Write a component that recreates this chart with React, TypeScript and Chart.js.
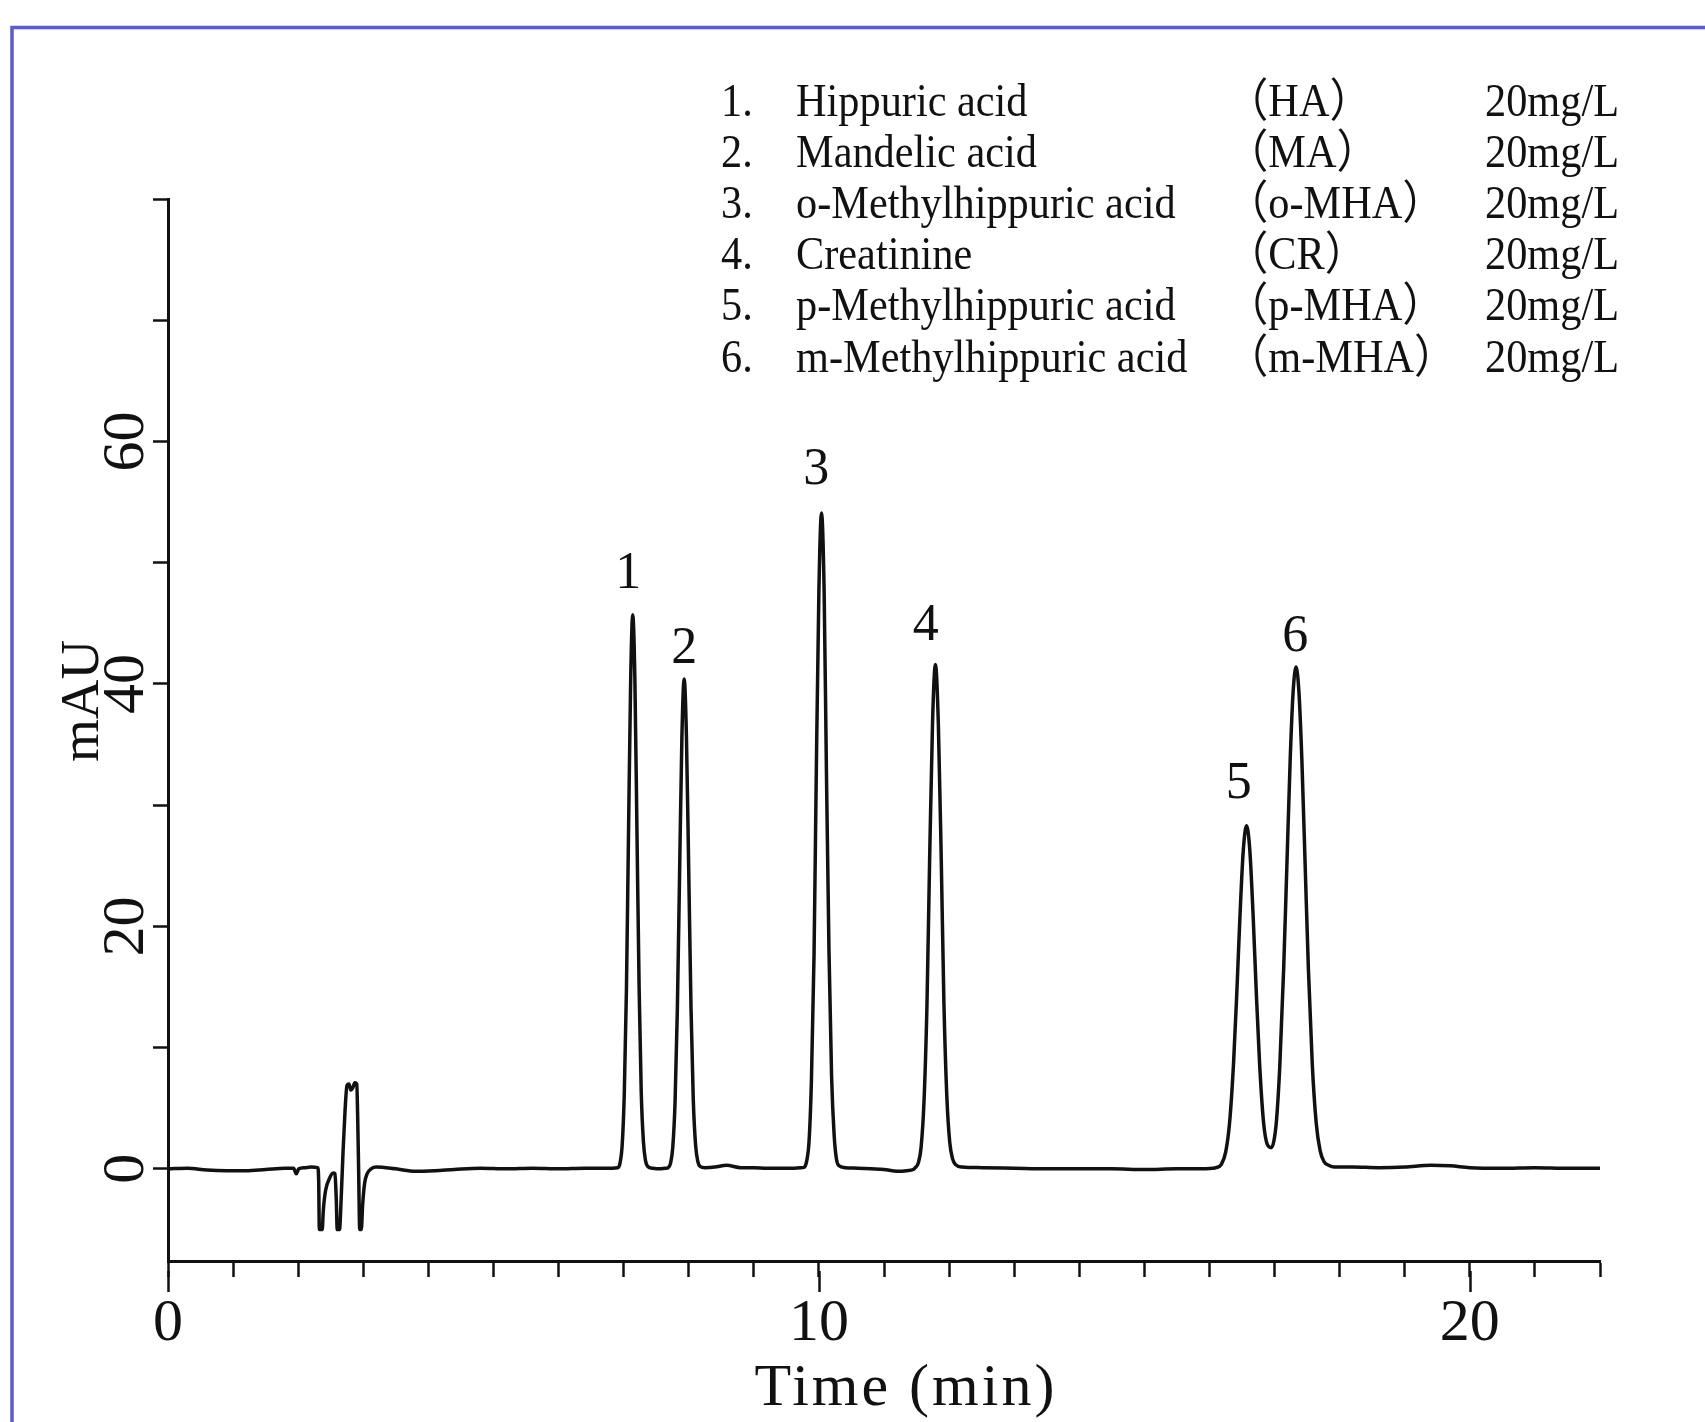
import React, { useEffect, useRef } from "react";
import { Chart, registerables } from "chart.js";

Chart.register(...registerables);

const W = 1705;
const H = 1422;
const INK = "#111111";
const SERIF = '"Liberation Serif", "Times New Roman", serif';

// ---- axes ----
const X_RANGE = [0, 22];
const Y_RANGE = [-7.6, 80];
const X_TICKS = [0, 1, 2, 3, 4, 5, 6, 7, 8, 9, 10, 11, 12, 13, 14, 15, 16, 17, 18, 19, 20, 21, 22];
const X_LABELED = [0, 10, 20];
const Y_TICKS = [0, 10, 20, 30, 40, 50, 60, 70, 80];
const Y_LABELED = [0, 20, 40, 60];

// ---- signal segments: [time (min), mAU] ----
const baselineStart = [
  [0, 0.0], [0.3, 0.05], [0.6, -0.1], [0.9, -0.15], [1.2, -0.15], [1.5, -0.05], [1.8, 0.05],
  [1.93, 0.05], [1.97, -0.4], [2.01, 0.0], [2.1, 0.1], [2.2, 0.15], [2.3, 0.1],
];
const injection = [
  [2.315, -1.0], [2.325, -5.0], [2.37, -5.0], [2.385, -3.5], [2.42, -1.8], [2.48, -0.8],
  [2.54, -0.35], [2.565, -0.4], [2.585, -2.5], [2.6, -5.0], [2.635, -5.0], [2.66, -2.5],
  [2.69, 1.5], [2.72, 4.8], [2.75, 6.9], [2.78, 7.0], [2.81, 6.5], [2.84, 6.7], [2.87, 7.1],
  [2.9, 7.0], [2.915, 4.0], [2.93, -0.5], [2.945, -5.0], [2.97, -5.0], [2.99, -3.0],
  [3.02, -1.2], [3.06, -0.4], [3.12, 0.0], [3.2, 0.15],
];
const baselineMid1 = [
  [3.5, 0.0], [3.8, -0.2], [4.1, -0.15], [4.4, -0.05], [4.8, 0.05], [5.2, 0.0], [5.6, 0.05],
  [6.0, 0.0], [6.4, 0.05], [6.7, 0.05], [6.91, 0.1],
];
const peakHA = [
  [6.945, 0.5], [6.978, 2.0], [7.01, 6.2], [7.043, 14.8], [7.075, 27.7], [7.108, 40.3],
  [7.14, 45.7], [7.173, 40.3], [7.205, 27.7], [7.238, 14.9], [7.27, 6.4], [7.303, 2.3],
  [7.335, 0.7], [7.37, 0.2], [7.45, 0.05], [7.55, 0.0], [7.64, 0.05],
];
const peakMA = [
  [7.685, 0.1], [7.72, 0.45], [7.755, 1.8], [7.79, 5.5], [7.825, 13.1], [7.86, 24.5],
  [7.895, 35.6], [7.93, 40.4], [7.965, 35.6], [8.0, 24.6], [8.035, 13.3], [8.07, 5.7],
  [8.105, 2.0], [8.14, 0.6], [8.175, 0.2], [8.25, 0.1],
];
const baselineMid2 = [
  [8.4, 0.15], [8.58, 0.3], [8.8, 0.1], [9.0, 0.1], [9.2, 0.05], [9.4, 0.05], [9.6, 0.05], [9.72, 0.1],
];
const peakOMHA = [
  [9.77, 0.12], [9.81, 0.6], [9.85, 2.4], [9.885, 7.3], [9.925, 17.6], [9.96, 32.8],
  [10.0, 47.7], [10.04, 54.1], [10.08, 47.7], [10.115, 33.0], [10.155, 17.9], [10.195, 7.6],
  [10.235, 2.7], [10.27, 0.8], [10.31, 0.25], [10.4, 0.1],
];
const baselineMid3 = [
  [10.6, 0.05], [10.8, 0.0], [11.0, -0.05], [11.2, -0.2], [11.35, -0.15], [11.45, -0.05],
];
const peakCR = [
  [11.48, 0.1], [11.525, 0.46], [11.57, 1.8], [11.615, 5.6], [11.66, 13.5], [11.7, 25.2],
  [11.745, 36.7], [11.79, 41.6], [11.835, 36.7], [11.88, 25.4], [11.92, 13.8], [11.965, 6.0],
  [12.01, 2.2], [12.055, 0.8], [12.1, 0.35], [12.2, 0.15],
];
const baselineMid4 = [
  [12.5, 0.1], [13.0, 0.05], [13.5, 0.0], [14.0, 0.0], [14.5, 0.0], [15.0, -0.05],
  [15.5, 0.0], [15.8, 0.0], [16.05, 0.05],
];
const peaksPMHA_MMHA = [
  [16.1, 0.1], [16.18, 0.35], [16.25, 1.4], [16.31, 3.85], [16.37, 8.7], [16.42, 14.5],
  [16.47, 21.0], [16.52, 26.3], [16.57, 28.3], [16.62, 26.3], [16.67, 21.0], [16.72, 14.5],
  [16.77, 8.7], [16.83, 3.9], [16.89, 2.0], [16.95, 1.75], [16.99, 2.3], [17.03, 4.0],
  [17.08, 8.4], [17.14, 16.5], [17.19, 25.1], [17.24, 33.7], [17.285, 39.3], [17.33, 41.4],
  [17.375, 39.3], [17.42, 33.7], [17.47, 25.1], [17.52, 16.5], [17.58, 8.6], [17.64, 3.8],
  [17.7, 1.5], [17.76, 0.6], [17.83, 0.3], [17.92, 0.15],
];
const baselineEnd = [
  [18.2, 0.15], [18.6, 0.1], [19.0, 0.15], [19.4, 0.3], [19.7, 0.25], [20.0, 0.1],
  [20.5, 0.05], [21.0, 0.1], [21.5, 0.05], [22.0, 0.05],
];

// ---- peak labels (anchored in data units) ----
const PEAK_NAMES = ["1", "2", "3", "4", "5", "6"];
const PEAK_LABEL_T = [7.07, 7.93, 9.96, 11.64, 16.45, 17.32];
const PEAK_LABEL_V = [49.3, 43.1, 57.9, 45.0, 32.0, 44.1];

// ---- legend text ----
const LEGEND_NUM = ["1.", "2.", "3.", "4.", "5.", "6."];
const LEGEND_NAME = [
  "Hippuric acid",
  "Mandelic acid",
  "o-Methylhippuric acid",
  "Creatinine",
  "p-Methylhippuric acid",
  "m-Methylhippuric acid",
];
const LEGEND_ABBR = ["（HA）", "（MA）", "（o-MHA）", "（CR）", "（p-MHA）", "（m-MHA）"];
const LEGEND_CONC = ["20mg/L", "20mg/L", "20mg/L", "20mg/L", "20mg/L", "20mg/L"];

const Y_TITLE = "mAU";
const X_TITLE = "Time (min)";

const SEGMENTS = [
  baselineStart, injection, baselineMid1, peakHA, peakMA, baselineMid2, peakOMHA,
  baselineMid3, peakCR, baselineMid4, peaksPMHA_MMHA, baselineEnd,
];

const decorPlugin = {
  id: "decor",
  beforeDraw(chart: any) {
    const ctx = chart.ctx;
    ctx.save();
    ctx.fillStyle = "#ffffff";
    ctx.fillRect(0, 0, chart.width, chart.height);
    ctx.strokeStyle = "#5a5ad2";
    ctx.lineWidth = 3.5;
    ctx.beginPath();
    ctx.moveTo(12, H);
    ctx.lineTo(12, 27.5);
    ctx.lineTo(W, 27.5);
    ctx.stroke();
    ctx.restore();
  },
  afterDraw(chart: any) {
    const ctx = chart.ctx;
    const area = chart.chartArea;
    const xs = chart.scales.x;
    const ys = chart.scales.y;
    ctx.save();
    // long major ticks on time axis
    ctx.strokeStyle = INK;
    ctx.lineWidth = 2.5;
    for (const v of X_LABELED) {
      const px = Math.round(xs.getPixelForValue(v)) + 0.5;
      ctx.beginPath();
      ctx.moveTo(px, area.bottom + 10);
      ctx.lineTo(px, area.bottom + 31);
      ctx.stroke();
    }
    ctx.fillStyle = INK;
    // rotated y tick labels
    ctx.font = `60px ${SERIF}`;
    ctx.textAlign = "center";
    ctx.textBaseline = "alphabetic";
    for (const v of Y_LABELED) {
      const py = ys.getPixelForValue(v);
      ctx.save();
      ctx.translate(area.left - 25, py);
      ctx.rotate(-Math.PI / 2);
      ctx.fillText(String(v), 0, 0);
      ctx.restore();
    }
    // y title
    ctx.font = `55px ${SERIF}`;
    ctx.save();
    ctx.translate(98, 701);
    ctx.rotate(-Math.PI / 2);
    ctx.fillText(Y_TITLE, 0, 0);
    ctx.restore();
    // x title
    ctx.font = `60px ${SERIF}`;
    (ctx as any).letterSpacing = "3px";
    ctx.fillText(X_TITLE, 906, 1405);
    (ctx as any).letterSpacing = "0px";
    // peak labels
    ctx.font = `52px ${SERIF}`;
    for (let i = 0; i < PEAK_NAMES.length; i++) {
      const px = xs.getPixelForValue(PEAK_LABEL_T[i]);
      const py = ys.getPixelForValue(PEAK_LABEL_V[i]);
      ctx.fillText(PEAK_NAMES[i], px, py + 17);
    }
    // legend
    ctx.font = `46px ${SERIF}, "Noto Sans CJK SC"`;
    ctx.textAlign = "left";
    const cols = [721, 796, 1226, 1485];
    for (let i = 0; i < LEGEND_NUM.length; i++) {
      const by = 116 + i * 51.1;
      const texts = [LEGEND_NUM[i], LEGEND_NAME[i], LEGEND_ABBR[i], LEGEND_CONC[i]];
      for (let c = 0; c < 4; c++) {
        ctx.save();
        ctx.translate(cols[c], by);
        ctx.scale(0.92, 1);
        ctx.fillText(texts[c], 0, 0);
        ctx.restore();
      }
    }
    ctx.restore();
  },
};

export default function App() {
  const ref = useRef<HTMLCanvasElement | null>(null);

  useEffect(() => {
    document.body.style.margin = "0";
    const canvas = ref.current;
    if (!canvas) return;
    const points: { x: number; y: number }[] = [];
    for (const seg of SEGMENTS) for (const [t, v] of seg) points.push({ x: t, y: v });

    const chart = new Chart(canvas, {
      type: "line",
      data: {
        datasets: [
          {
            data: points,
            borderColor: INK,
            borderWidth: 3.5,
            pointRadius: 0,
            fill: false,
            cubicInterpolationMode: "monotone",
          },
        ],
      },
      plugins: [decorPlugin],
      options: {
        responsive: false,
        animation: false,
        devicePixelRatio: 1,
        layout: { padding: { left: 0, top: 199, right: 105, bottom: 0 } },
        plugins: { legend: { display: false }, tooltip: { enabled: false }, title: { display: false } },
        scales: {
          x: {
            type: "linear",
            min: X_RANGE[0],
            max: X_RANGE[1],
            afterBuildTicks: (s: any) => {
              s.ticks = X_TICKS.map((v) => ({ value: v }));
            },
            afterFit: (s: any) => {
              s.height = 161;
            },
            grid: {
              display: true,
              drawOnChartArea: false,
              drawTicks: true,
              tickLength: 16,
              tickWidth: 2.5,
              tickColor: INK,
              color: INK,
            },
            border: { display: true, width: 3, color: INK },
            ticks: {
              autoSkip: false,
              maxRotation: 0,
              minRotation: 0,
              padding: 11,
              color: INK,
              font: { family: SERIF, size: 60 },
              callback: (v: any) => (X_LABELED.includes(Number(v)) ? String(v) : ""),
            },
          },
          y: {
            type: "linear",
            min: Y_RANGE[0],
            max: Y_RANGE[1],
            afterBuildTicks: (s: any) => {
              s.ticks = Y_TICKS.map((v) => ({ value: v }));
            },
            afterFit: (s: any) => {
              s.width = 168;
            },
            grid: {
              display: true,
              drawOnChartArea: false,
              drawTicks: true,
              tickLength: 15,
              tickWidth: 2.5,
              tickColor: INK,
              color: INK,
            },
            border: { display: true, width: 3, color: INK },
            ticks: { display: false },
          },
        },
      },
    } as any);
    return () => chart.destroy();
  }, []);

  return <canvas ref={ref} width={W} height={H} style={{ display: "block", width: W, height: H }} />;
}
